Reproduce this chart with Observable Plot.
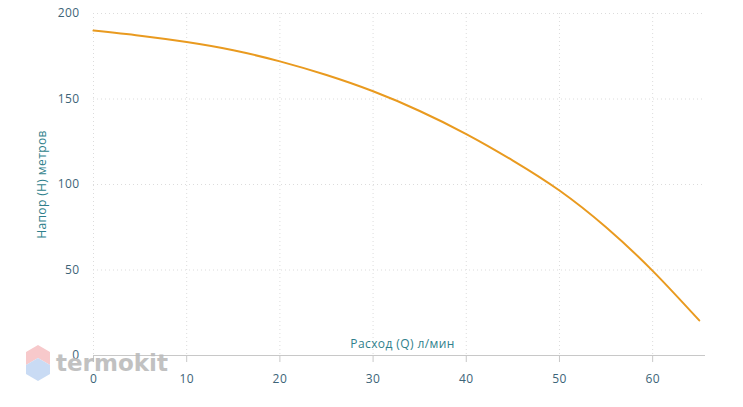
<!DOCTYPE html>
<html><head><meta charset="utf-8">
<script src="https://cdn.jsdelivr.net/npm/d3@7"></script>
<script src="https://cdn.jsdelivr.net/npm/@observablehq/plot@0.6"></script>
<style>
body{margin:0;background:#fff;}
#wrap{position:relative;width:743px;height:407px;}
#wm{position:absolute;left:24px;top:343px;display:flex;align-items:center;font-family:"DejaVu Sans",sans-serif;font-weight:bold;font-size:23px;color:#bbbbbb;opacity:.9;pointer-events:none}
</style></head>
<body><div id="wrap"><div id="chart"></div>
<div id="wm"><svg width="28" height="40" viewBox="0 0 28 40"><polygon points="14,2 26,9 26,22 14,15 2,22 2,9" fill="#f7c4c6"/><polygon points="14,15 26,22 26,31 14,38 2,31 2,22" fill="#c4d8f3"/></svg><span style="margin-left:4px">termokit</span></div>
</div>
<script>
const flow = [0, 5, 10, 15, 20, 25, 30, 35, 40, 45, 50, 55, 60, 65];
const head = [190, 187, 183.3, 178.5, 172, 164, 154.5, 143, 129.5, 114, 96.5, 75, 49.5, 20.5];
const xTicks = [0, 10, 20, 30, 40, 50, 60];
const yTicks = [0, 50, 100, 150, 200];
const xLabel = "Расход (Q) л/мин";
const yLabel = "Напор (H) метров";

const data = flow.map((q, i) => ({q, h: head[i]}));
const tickColor = "#3d6478";
const labelColor = "#2f7f8c";
const gridColor = "#dcdcdc";

const chart = Plot.plot({
  width: 743, height: 407,
  marginLeft: 93, marginRight: 38, marginTop: 13, marginBottom: 52,
  style: {fontFamily: "'Open Sans', sans-serif", fontSize: "12px", background: "white", letterSpacing: "0.4px"},
  x: {domain: [0, 65.67]},
  y: {domain: [0, 200]},
  marks: [
    Plot.gridY(yTicks.filter(d => d > 0), {stroke: gridColor, strokeOpacity: 1, strokeDasharray: "1,3"}),
    Plot.gridX(xTicks, {stroke: gridColor, strokeOpacity: 1, strokeDasharray: "1,3"}),
    Plot.ruleY([0], {stroke: "#c8c8c8"}),
    Plot.axisX(xTicks, {tickSize: 7, tickPadding: 12, stroke: "#c8c8c8", fill: tickColor, label: null}),
    Plot.axisY(yTicks, {tickSize: 0, tickPadding: 14, fill: tickColor, label: null}),
    Plot.text([xLabel], {frameAnchor: "bottom", dx: 3, dy: -8, fill: labelColor, fontSize: 12}),
    Plot.text([yLabel], {frameAnchor: "left", textAnchor: "middle", dx: -51, rotate: -90, fill: labelColor, fontSize: 12}),
    Plot.line(data, {x: "q", y: "h", curve: "natural", stroke: "#e99a1f", strokeWidth: 2})
  ]
});
document.getElementById("chart").appendChild(chart);
</script></body></html>
